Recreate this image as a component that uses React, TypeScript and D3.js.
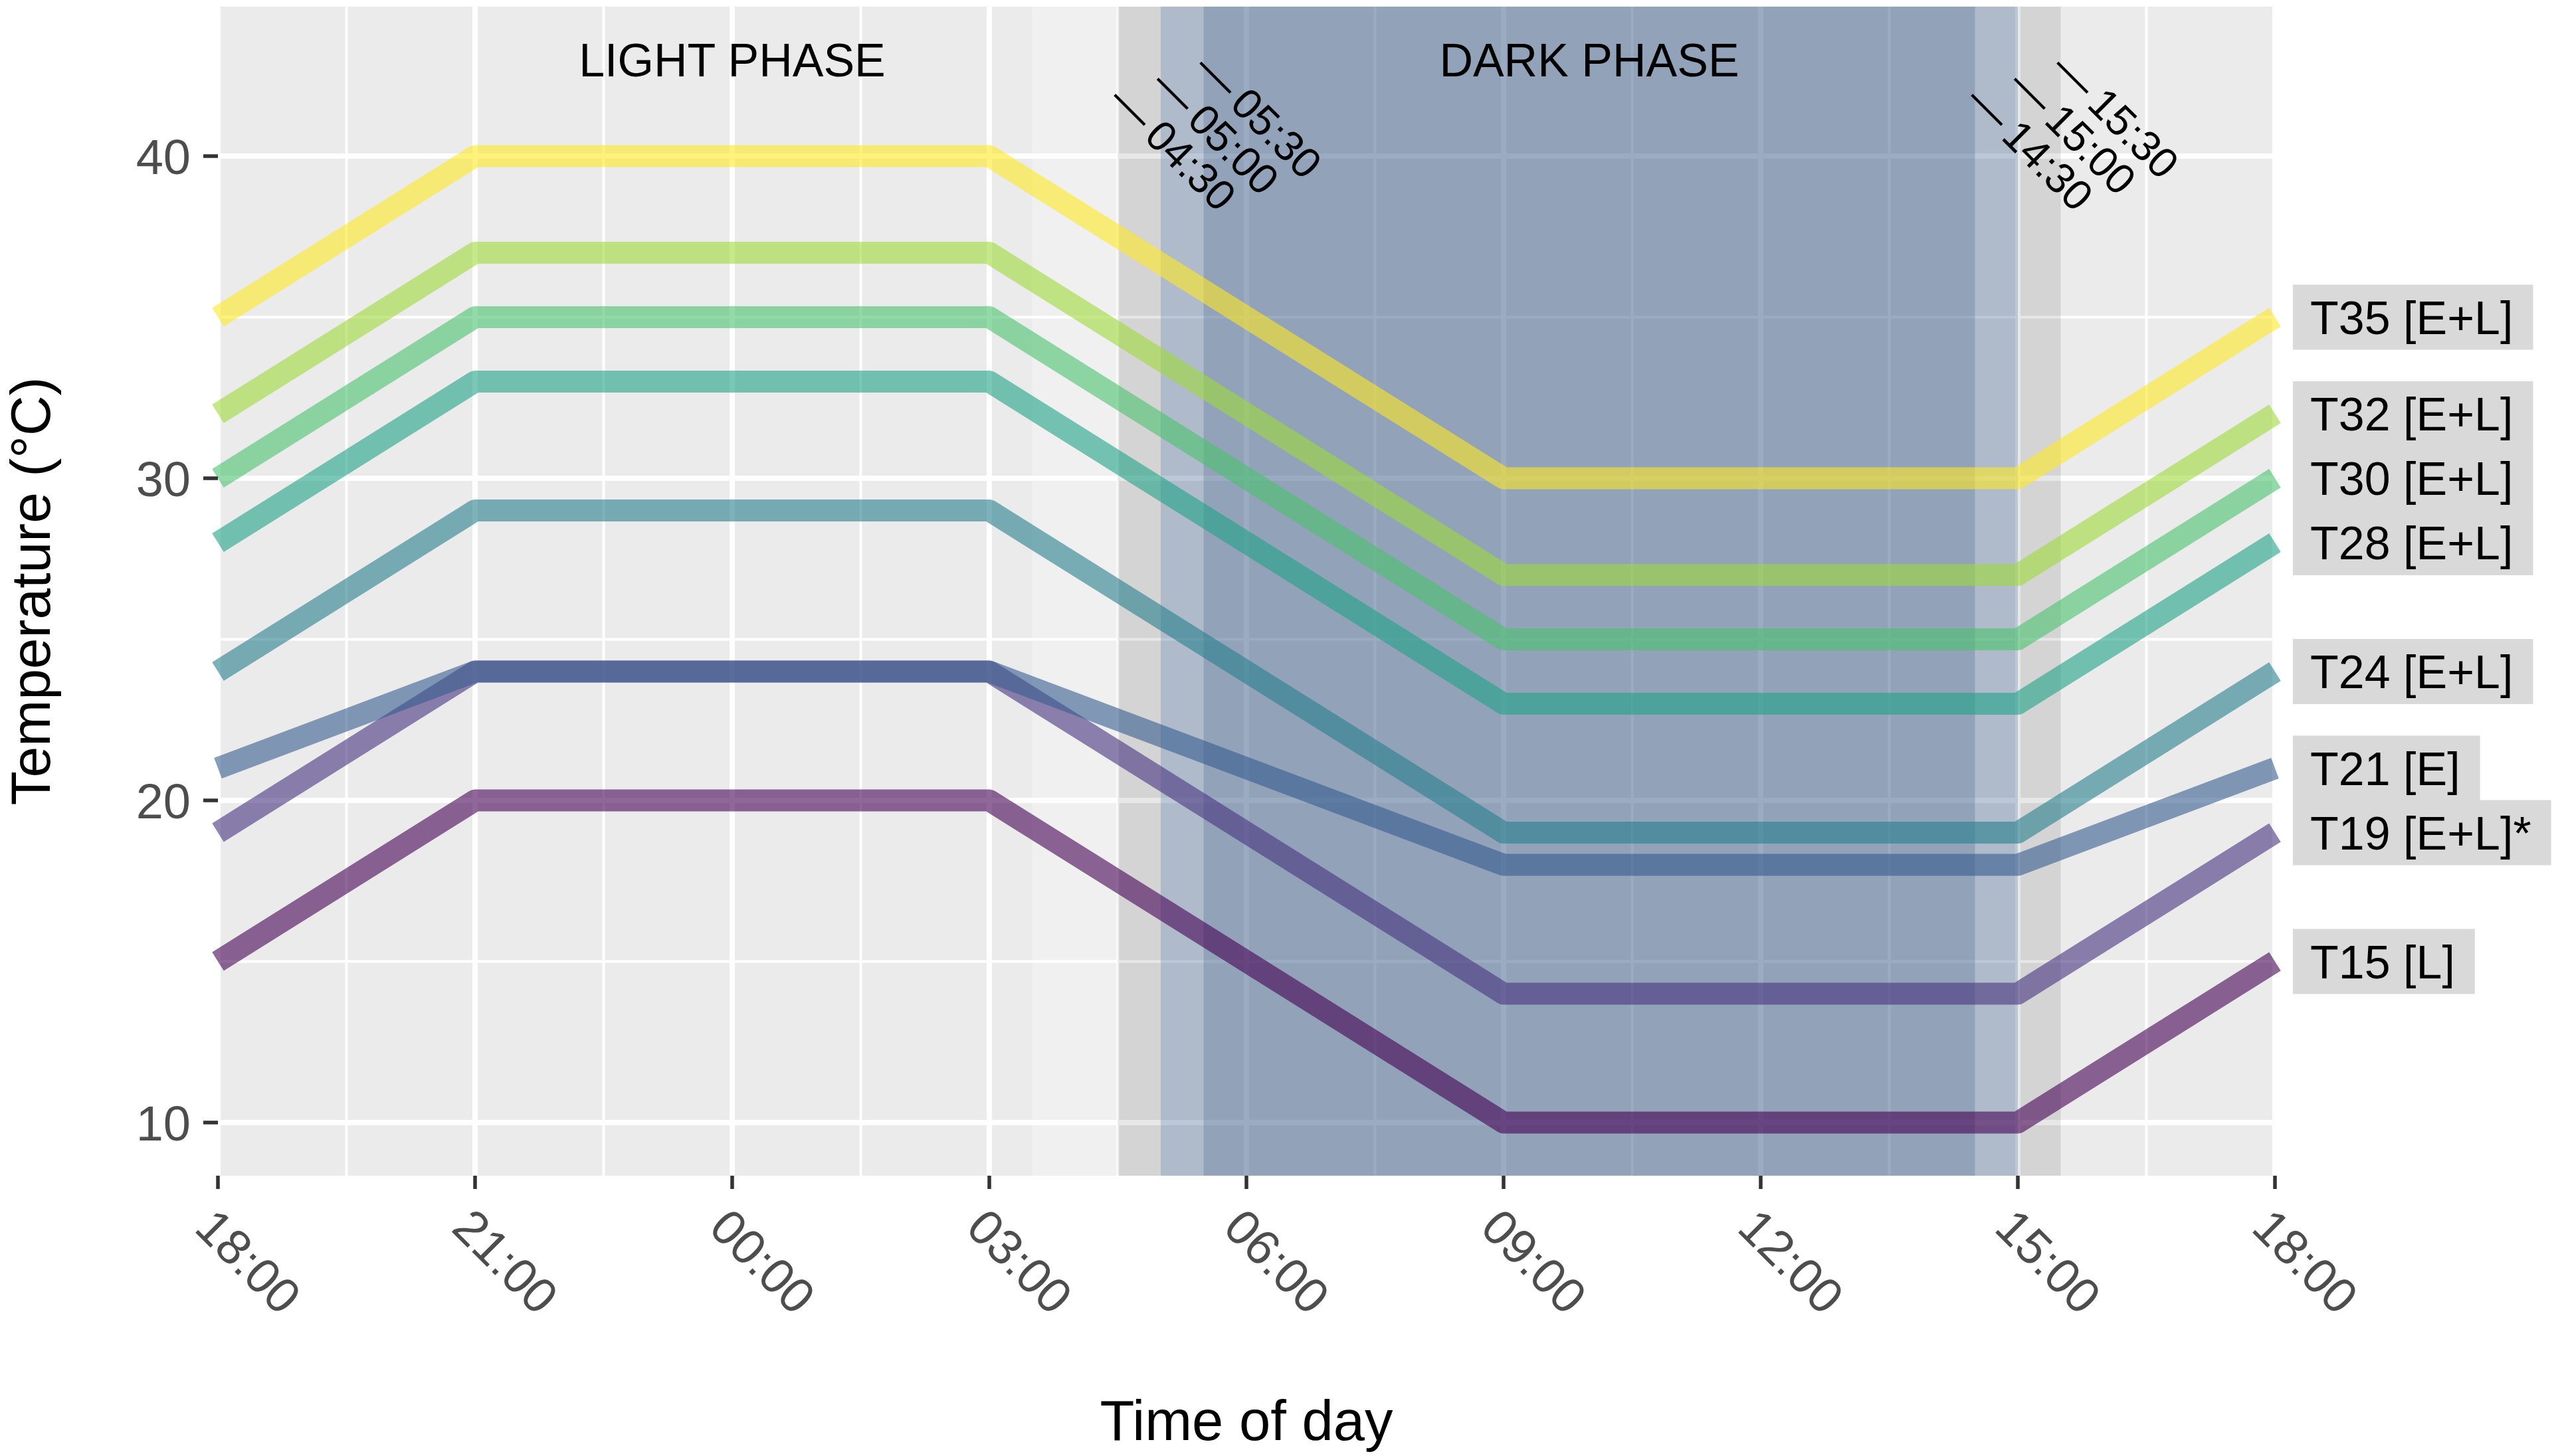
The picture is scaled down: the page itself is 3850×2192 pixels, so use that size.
import React from "react";
import { scaleLinear, line } from "d3";

// --- data ---
const timeOfDay = ["18:00", "21:00", "03:00", "09:00", "15:00", "18:00"];

const seriesNames = [
  "T15 [L]",
  "T19 [E+L]*",
  "T21 [E]",
  "T24 [E+L]",
  "T28 [E+L]",
  "T30 [E+L]",
  "T32 [E+L]",
  "T35 [E+L]",
];
const t15 = [15, 20, 20, 10, 10, 15];
const t19 = [19, 24, 24, 14, 14, 19];
const t21 = [21, 24, 24, 18, 18, 21];
const t24 = [24, 29, 29, 19, 19, 24];
const t28 = [28, 33, 33, 23, 23, 28];
const t30 = [30, 35, 35, 25, 25, 30];
const t32 = [32, 37, 37, 27, 27, 32];
const t35 = [35, 40, 40, 30, 30, 35];
const seriesValues = [t15, t19, t21, t24, t28, t30, t32, t35];

// viridis(8)
const seriesColors = ["#440154", "#46337E", "#365C8D", "#277F8E", "#1FA187", "#4AC16D", "#9FDA3A", "#FDE725"];

const xTickLabels = ["18:00", "21:00", "00:00", "03:00", "06:00", "09:00", "12:00", "15:00", "18:00"];
const yTicks = [10, 20, 30, 40];
const yMinorTicks = [15, 25, 35];

const phaseLabels = ["LIGHT PHASE", "DARK PHASE"];
const phaseAt = ["00:00", "10:00"];
const phaseY = 43;

const markerLabels = ["04:30", "05:00", "05:30", "14:30", "15:00", "15:30"];
const markerY = [42, 42.5, 43, 42, 42.5, 43];

// shaded periods: [start, end]
const brightBand = ["03:30", "04:30"];
const twilightBand = ["04:30", "15:30"];
const darkOuterBand = ["05:00", "15:00"];
const darkInnerBand = ["05:30", "14:30"];

const FONT = "'Liberation Sans', Arial, Helvetica, sans-serif";

// hours since 18:00 (the plot starts at 18:00 and runs 24 h)
const offsetOf = (t: string, isEnd = false) => {
  const [h, m] = t.split(":").map(Number);
  let o = (h + m / 60 - 18 + 24) % 24;
  if (isEnd && o === 0) o = 24;
  return o;
};

const measure = (() => {
  const ctx = document.createElement("canvas").getContext("2d")!;
  return (txt: string, size: number) => {
    ctx.font = `${size}px 'Liberation Sans', Arial, sans-serif`;
    return ctx.measureText(txt).width;
  };
})();

export default function App() {
  const W = 3850;
  const H = 2192;
  const panel = { left: 328, right: 3424, top: 10, bottom: 1770 };

  const x = scaleLinear().domain([0, 24]).range([panel.left, panel.right]);
  const y = scaleLinear().domain([8.35, 44.64]).range([panel.bottom, panel.top]);

  const xMajor = xTickLabels.map((t, i) => offsetOf(t, i === xTickLabels.length - 1));
  const xMinor = xMajor.slice(1).map((v, i) => (v + xMajor[i]) / 2);

  const pathGen = line<[number, number]>()
    .x((d) => x(d[0]))
    .y((d) => y(d[1]));

  const times = timeOfDay.map((t, i) => offsetOf(t, i === timeOfDay.length - 1));

  const band = (b: string[], fill: string, opacity: number) => (
    <rect
      x={x(offsetOf(b[0]))}
      y={panel.top}
      width={x(offsetOf(b[1])) - x(offsetOf(b[0]))}
      height={panel.bottom - panel.top}
      fill={fill}
      fillOpacity={opacity}
    />
  );

  const labelSize = 70;
  const labelLeft = 3451;

  return (
    <svg
      width={W}
      height={H}
      style={{ position: "absolute", left: 0, top: 0, background: "#fff" }}
      fontFamily={FONT}
    >
      <rect width={W} height={H} fill="#fff" />
      {/* panel */}
      <rect x={panel.left} y={panel.top} width={panel.right - panel.left} height={panel.bottom - panel.top} fill="#EBEBEB" />
      {/* grid */}
      {yMinorTicks.map((v) => (
        <line key={"ym" + v} x1={panel.left} x2={panel.right} y1={y(v)} y2={y(v)} stroke="#fff" strokeWidth={4} />
      ))}
      {xMinor.map((v) => (
        <line key={"xm" + v} x1={x(v)} x2={x(v)} y1={panel.top} y2={panel.bottom} stroke="#fff" strokeWidth={4} />
      ))}
      {yTicks.map((v) => (
        <line key={"yM" + v} x1={panel.left} x2={panel.right} y1={y(v)} y2={y(v)} stroke="#fff" strokeWidth={8} />
      ))}
      {xMajor.map((v, i) => (
        <line key={"xM" + i} x1={x(v)} x2={x(v)} y1={panel.top} y2={panel.bottom} stroke="#fff" strokeWidth={8} />
      ))}

      {/* shading */}
      {band(brightBand, "#fff", 0.28)}
      {band(twilightBand, "#000", 0.095)}
      {band(darkOuterBand, "#5a82b4", 0.3)}
      {band(darkInnerBand, "#4f6992", 0.3)}

      {/* temperature profiles */}
      {seriesValues.map((vals, i) => (
        <path
          key={seriesNames[i]}
          d={pathGen(vals.map((v, j) => [times[j], v] as [number, number]))!}
          fill="none"
          stroke={seriesColors[i]}
          strokeOpacity={0.6}
          strokeWidth={33}
          strokeLinejoin="round"
          strokeLinecap="butt"
        />
      ))}

      {/* phase annotations */}
      {phaseLabels.map((p, i) => (
        <text key={p} x={x(offsetOf(phaseAt[i]))} y={y(phaseY)} dy="0.36em" textAnchor="middle" fontSize={70} fill="#000">
          {p}
        </text>
      ))}
      {markerLabels.map((m, i) => (
        <g key={m} transform={`translate(${x(offsetOf(m))},${y(markerY[i])}) rotate(45)`}>
          <text dy="0.36em" fontSize={64} fill="#000">
            —<tspan dx={12}>{m}</tspan>
          </text>
        </g>
      ))}

      {/* y axis */}
      {yTicks.map((v) => (
        <g key={"yt" + v}>
          <line x1={panel.left - 22} x2={panel.left} y1={y(v)} y2={y(v)} stroke="#333" strokeWidth={5.5} />
          <text x={287} y={y(v)} dy="0.36em" textAnchor="end" fontSize={74} fill="#4D4D4D">
            {v}
          </text>
        </g>
      ))}
      <text
        transform={`translate(45,${(panel.top + panel.bottom) / 2}) rotate(-90)`}
        dy="0.36em"
        textAnchor="middle"
        fontSize={84}
        fill="#000"
      >
        Temperature (°C)
      </text>

      {/* x axis */}
      {xMajor.map((v, i) => (
        <g key={"xt" + i}>
          <line x1={x(v)} x2={x(v)} y1={panel.bottom} y2={panel.bottom + 20} stroke="#333" strokeWidth={5.5} />
          <g transform={`translate(${x(v)},${panel.bottom + 44}) rotate(45)`}>
            <text dy="0.72em" fontSize={74} fill="#4D4D4D">
              {xTickLabels[i]}
            </text>
          </g>
        </g>
      ))}
      <text x={(panel.left + panel.right) / 2} y={2137} dy="0.36em" textAnchor="middle" fontSize={85} fill="#000">
        Time of day
      </text>

      {/* end labels */}
      {seriesValues.map((vals, i) => {
        const v = vals[vals.length - 1];
        const w = measure(seriesNames[i], labelSize) + 56;
        return (
          <rect key={"lb" + i} x={labelLeft} y={y(v) - 49} width={w} height={98} fill="#D9D9D9" />
        );
      })}
      {seriesValues.map((vals, i) => {
        const v = vals[vals.length - 1];
        return (
          <text key={"lt" + i} x={labelLeft + 26} y={y(v)} dy="0.36em" fontSize={labelSize} fill="#000">
            {seriesNames[i]}
          </text>
        );
      })}
    </svg>
  );
}
